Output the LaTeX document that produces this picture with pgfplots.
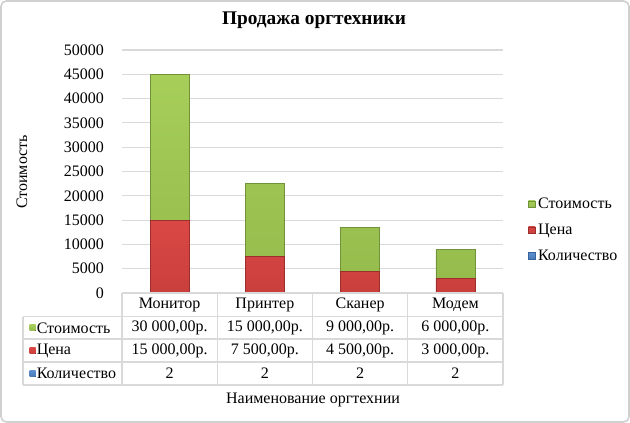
\documentclass[border=0pt]{standalone}
\usepackage{pgfplots}
\pgfplotsset{compat=1.18}
\usepackage{fontspec}
\setmainfont{Liberation Serif}
\definecolor{gridc}{HTML}{D9D9D9}
\definecolor{frame}{HTML}{D0D0D0}
\definecolor{grnT}{HTML}{A6CE59}
\definecolor{grnB}{HTML}{96BC4D}
\definecolor{grnE}{HTML}{71913A}
\definecolor{redT}{HTML}{DA4845}
\definecolor{redB}{HTML}{C93F3C}
\definecolor{redE}{HTML}{9C2F2E}
\definecolor{bluT}{HTML}{5A8FD0}
\definecolor{bluB}{HTML}{4A7AB6}
\definecolor{bluE}{HTML}{38629A}
\newcommand{\tf}{\fontsize{12}{14}\selectfont}
\begin{document}
\begin{tikzpicture}
\begin{scope}[x=0.75pt,y=-0.75pt]
\path[use as bounding box] (0,0) rectangle (630,423);
\fill[white] (0,0) rectangle (630,423);
\draw[frame, line width=1.2pt, rounded corners=4pt] (1,1) rectangle (629,422);
\end{scope}
\begin{axis}[
  at={(91.5pt,-219.75pt)}, anchor=south west,
  scale only axis, width=285.75pt, height=182.25pt,
  ybar stacked, bar width=29.25pt,
  xmin=-0.5, xmax=3.5, ymin=0, ymax=50000,
  ytick={0,5000,...,50000},
  xtick={0,1,2,3},
  xticklabels={Монитор,Принтер,Сканер,Модем},
  xticklabel style={anchor=center, yshift=-8.6pt, font=\tf},
  yticklabel style={font=\tf, xshift=-10pt},
  /pgf/number format/assume math mode=true,
  /pgf/number format/set thousands separator={},
  scaled y ticks=false,
  ymajorgrids, grid style={gridc, line width=0.8pt},
  axis line style={draw=none},
  major tick length=0pt,
  legend style={at={(1.055,0.259)}, anchor=west, draw=none, fill=none,
    font=\tf, row sep=6pt, legend cell align=left},
  reverse legend,
  legend image code/.code={\path[#1] (0pt,-2.5pt) rectangle (5pt,2.5pt);},
]
\addplot[draw=bluE, line width=0.4pt, top color=bluT, bottom color=bluB]
  coordinates {(0,2) (1,2) (2,2) (3,2)};
\addplot[draw=redE, line width=0.4pt, top color=redT, bottom color=redB]
  coordinates {(0,15000) (1,7500) (2,4500) (3,3000)};
\addplot[draw=grnE, line width=0.4pt, top color=grnT, bottom color=grnB]
  coordinates {(0,30000) (1,15000) (2,9000) (3,6000)};
\legend{Количество,Цена,Стоимость}
\end{axis}
\begin{scope}[x=0.75pt,y=-0.75pt]
\node[font=\fontsize{14.5}{17}\selectfont\bfseries] at (314,20) {Продажа оргтехники};
\node[font=\tf, rotate=90] at (22,172) {Стоимость};
\node[font=\tf] at (313,400) {Наименование оргтехнии};
% table grid
\draw[gridc, line width=0.8pt] (122,293) -- (503,293);
\foreach \yy in {316.7,339,362,385} \draw[gridc, line width=0.8pt] (23,\yy) -- (503,\yy);
\draw[gridc, line width=0.8pt] (23,316.7) -- (23,385);
\foreach \xx in {122,217.25,312.5,407.75,503} \draw[gridc, line width=0.8pt] (\xx,293) -- (\xx,385);
% row headers
\fill[top color=grnT,bottom color=grnB] (29.5,324.8) rectangle (35.5,330.8);
\fill[top color=redT,bottom color=redB] (29.5,347.5) rectangle (35.5,353.5);
\fill[top color=bluT,bottom color=bluB] (29.5,370.5) rectangle (35.5,376.5);
\node[font=\tf, anchor=west, inner sep=0pt] at (36.5,327.8) {Стоимость};
\node[font=\tf, anchor=west, inner sep=0pt] at (36.5,350.5) {Цена};
\node[font=\tf, anchor=west, inner sep=0pt] at (36.5,373.5) {Количество};
% values
\node[font=\tf] at (169.6,327.8) {30 000,00р.};
\node[font=\tf] at (264.9,327.8) {15 000,00р.};
\node[font=\tf] at (360.1,327.8) {9 000,00р.};
\node[font=\tf] at (455.4,327.8) {6 000,00р.};
\node[font=\tf] at (169.6,350.5) {15 000,00р.};
\node[font=\tf] at (264.9,350.5) {7 500,00р.};
\node[font=\tf] at (360.1,350.5) {4 500,00р.};
\node[font=\tf] at (455.4,350.5) {3 000,00р.};
\node[font=\tf] at (169.6,373.5) {2};
\node[font=\tf] at (264.9,373.5) {2};
\node[font=\tf] at (360.1,373.5) {2};
\node[font=\tf] at (455.4,373.5) {2};
\end{scope}
\end{tikzpicture}
\end{document}
